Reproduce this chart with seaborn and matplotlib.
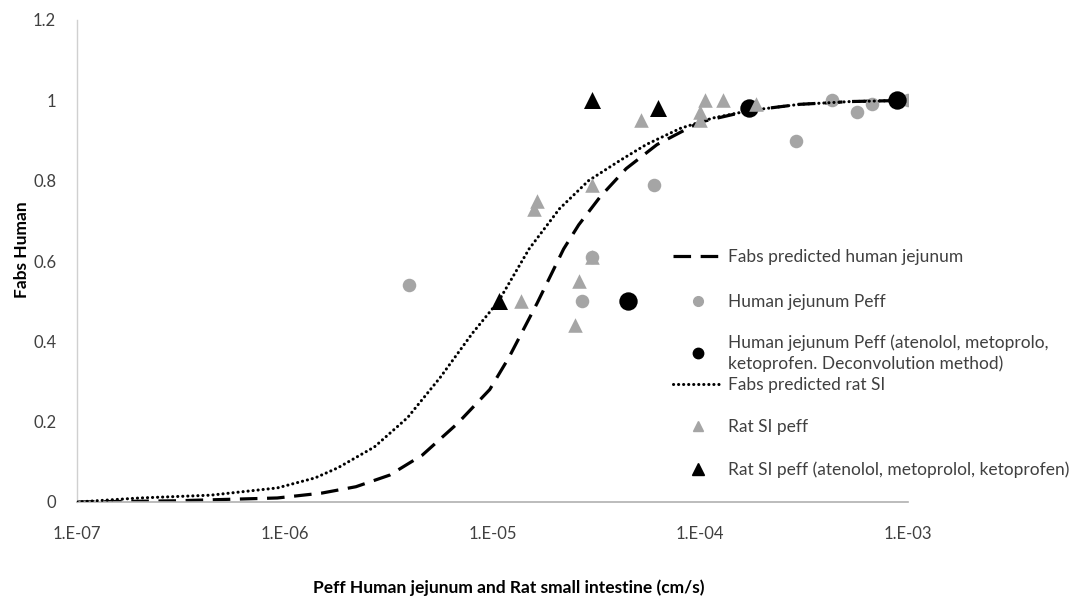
import numpy as np
import pandas as pd
import matplotlib
matplotlib.use("Agg")
import matplotlib.pyplot as plt
from matplotlib.lines import Line2D
import seaborn as sns

# ---------------- data ----------------
# Fabs predicted human jejunum (dashed curve)
hum_curve_x = [1e-7, 3e-7, 9.2e-7, 1.5e-6, 2.2e-6, 3.2e-6, 4.6e-6, 6.8e-6, 9.7e-6,
               1.2e-5, 1.64e-5, 2.2e-5, 2.6e-5, 3.3e-5, 4.4e-5, 6.2e-5, 8.0e-5,
               1.0e-4, 1.75e-4, 3.0e-4, 5.3e-4, 1e-3]
hum_curve_y = [0.0, 0.003, 0.01, 0.022, 0.038, 0.067, 0.117, 0.196, 0.28,
               0.36, 0.495, 0.63, 0.69, 0.76, 0.83, 0.89, 0.92,
               0.946, 0.975, 0.99, 0.997, 1.0]

# Fabs predicted rat SI (dotted curve)
rat_curve_x = [1e-7, 2e-7, 4.4e-7, 9.2e-7, 1.4e-6, 1.8e-6, 2.7e-6, 3.9e-6, 5.6e-6,
               8.0e-6, 1.07e-5, 1.5e-5, 2.1e-5, 2.9e-5, 4.1e-5, 5.5e-5, 8.0e-5,
               1.15e-4, 1.75e-4, 3.0e-4, 5.3e-4, 1e-3]
rat_curve_y = [0.0, 0.01, 0.017, 0.035, 0.06, 0.085, 0.137, 0.21, 0.31,
               0.42, 0.50, 0.63, 0.73, 0.80, 0.85, 0.89, 0.93,
               0.956, 0.975, 0.99, 0.997, 1.0]

# Human jejunum Peff (gray circles)
hj_x = [3.96e-6, 2.7e-5, 3.0e-5, 6.0e-5, 2.9e-4, 4.3e-4, 5.66e-4, 6.7e-4, 1.0e-3]
hj_y = [0.54, 0.50, 0.61, 0.79, 0.90, 1.00, 0.97, 0.99, 1.00]

# Human jejunum Peff (atenolol, metoprolol, ketoprofen; deconvolution) (black circles)
hjd_x = [4.5e-5, 1.72e-4, 8.9e-4]
hjd_y = [0.50, 0.98, 1.00]

# Rat SI peff (gray triangles)
rat_x = [1.37e-5, 2.6e-5, 2.5e-5, 1.64e-5, 1.58e-5, 3.0e-5, 3.0e-5, 5.19e-5,
         1.05e-4, 1.28e-4, 1.0e-4, 1.0e-4, 1.85e-4]
rat_y = [0.50, 0.55, 0.44, 0.75, 0.73, 0.79, 0.61, 0.95,
         1.00, 1.00, 0.97, 0.95, 0.99]

# Rat SI peff (atenolol, metoprolol, ketoprofen) (black triangles)
ratd_x = [1.07e-5, 3.0e-5, 6.28e-5]
ratd_y = [0.50, 1.00, 0.98]

x_ticks = [1e-7, 1e-6, 1e-5, 1e-4, 1e-3]
x_tick_labels = ["1.E-07", "1.E-06", "1.E-05", "1.E-04", "1.E-03"]
y_ticks = [0, 0.2, 0.4, 0.6, 0.8, 1, 1.2]
y_tick_labels = ["0", "0.2", "0.4", "0.6", "0.8", "1", "1.2"]

labels = [
    "Fabs predicted human jejunum",
    "Human jejunum Peff",
    "Human jejunum Peff (atenolol, metoprolo,\nketoprofen. Deconvolution method)",
    "Fabs predicted rat SI",
    "Rat SI peff",
    "Rat SI peff (atenolol, metoprolol, ketoprofen)",
]

# ---------------- style ----------------
sns.set_style("white")
FONT = ["Lato", "DejaVu Sans"]
plt.rcParams["font.family"] = FONT

GRAY = "#a5a5a5"
TXT = "#404040"
DASH = (0, (5.5, 3))
DOT = (0, (0.05, 1.6))

W, H = 1072, 598
fig = plt.figure(figsize=(W / 100, H / 100), dpi=100)
ax = fig.add_axes([77 / W, 1 - 502 / H, (908 - 77) / W, (502 - 20) / H])

# series in Excel order
sns.lineplot(x=hum_curve_x, y=hum_curve_y, ax=ax, color="black", lw=2.3,
             linestyle=DASH, estimator=None, sort=False, zorder=2)
sns.scatterplot(x=hj_x, y=hj_y, ax=ax, color=GRAY, marker="o", s=95,
                linewidth=0, zorder=3)
sns.scatterplot(x=hjd_x, y=hjd_y, ax=ax, color="black", marker="o", s=175,
                linewidth=0, zorder=4)
sns.lineplot(x=rat_curve_x, y=rat_curve_y, ax=ax, color="black", lw=2.2,
             linestyle=DOT, dash_capstyle="round",
             estimator=None, sort=False, zorder=5)
sns.scatterplot(x=rat_x, y=rat_y, ax=ax, color=GRAY, marker="^", s=110,
                linewidth=0, zorder=6)
sns.scatterplot(x=ratd_x, y=ratd_y, ax=ax, color="black", marker="^", s=150,
                linewidth=0, zorder=7)

ax.set_xscale("log")
ax.set_xlim(1e-7, 1e-3)
ax.set_ylim(0, 1.2)
ax.set_xticks(x_ticks)
ax.set_xticklabels(x_tick_labels)
ax.xaxis.set_minor_locator(matplotlib.ticker.NullLocator())
ax.set_yticks(y_ticks)
ax.set_yticklabels(y_tick_labels)
ax.tick_params(axis="both", length=0, labelsize=12, colors=TXT)
ax.tick_params(axis="x", pad=17)
ax.tick_params(axis="y", pad=15)

for side in ["top", "right"]:
    ax.spines[side].set_visible(False)
ax.spines["left"].set_color("#d0d0d0")
ax.spines["bottom"].set_color("#b0b0b0")
ax.spines["left"].set_linewidth(1.0)
ax.spines["bottom"].set_linewidth(1.2)
ax.set_xlabel("")
ax.set_ylabel("")

fig.text(22 / W, 1 - 250 / H, "Fabs Human", rotation=90, ha="center",
         va="center", fontsize=12.5, fontweight="bold", color="black")
fig.text(509 / W, 1 - 588 / H,
         "Peff Human jejunum and Rat small intestine (cm/s)",
         ha="center", va="center", fontsize=12.5, fontweight="bold", color="black")

# ---------------- legend (one entry per legend box, Excel-like spacing) ----------------
handles = [
    Line2D([], [], color="black", lw=2.3, linestyle=DASH),
    Line2D([], [], color=GRAY, marker="o", linestyle="none", markersize=7),
    Line2D([], [], color="black", marker="o", linestyle="none", markersize=7.5),
    Line2D([], [], color="black", lw=2.2, linestyle=DOT, dash_capstyle="round"),
    Line2D([], [], color=GRAY, marker="^", linestyle="none", markersize=7.5),
    Line2D([], [], color="black", marker="^", linestyle="none", markersize=8),
]
entry_y = [257, 302, 353, 385, 427, 470]
fs = 12.5
fs_px = fs * 100 / 72
for h, lab, yy in zip(handles, labels, entry_y):
    lg = fig.legend([h], [lab], loc="center left",
                    bbox_to_anchor=(673 / W, 1 - yy / H),
                    frameon=False, fontsize=fs, handlelength=50 / fs_px,
                    handletextpad=5 / fs_px, borderaxespad=0, borderpad=0,
                    labelcolor=TXT)
    for t in lg.get_texts():
        t.set_linespacing(1.3)

fig.savefig("out.png", dpi=100)
